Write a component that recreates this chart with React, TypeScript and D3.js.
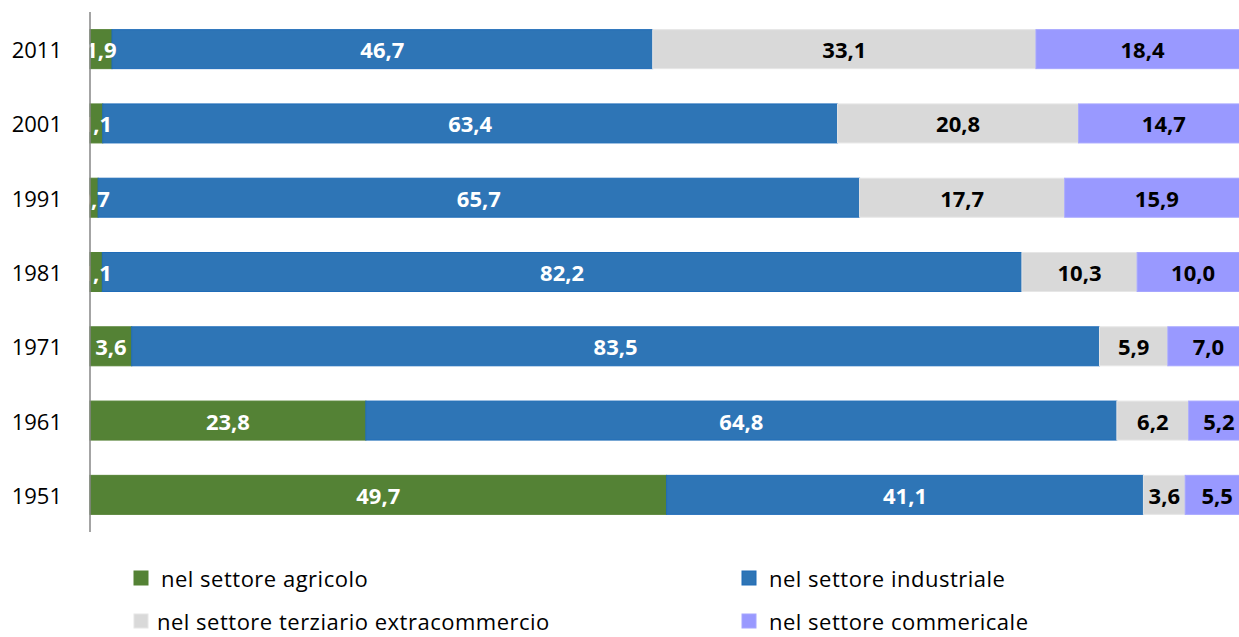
import { useEffect, useRef } from 'react'
import * as d3 from 'd3'

const years = ['2011', '2001', '1991', '1981', '1971', '1961', '1951']
const agricolo = [1.9, 1.1, 0.7, 1.1, 3.6, 23.8, 49.7]
const industriale = [46.7, 63.4, 65.7, 82.2, 83.5, 64.8, 41.1]
const terziario = [33.1, 20.8, 17.7, 10.3, 5.9, 6.2, 3.6]
const commerciale = [18.4, 14.7, 15.9, 10.0, 7.0, 5.2, 5.5]

const seriesNames = [
  'nel settore agricolo',
  'nel settore industriale',
  'nel settore terziario extracommercio',
  'nel settore commericale'
]

const W = 1239
const H = 637
const FONT = '"Open Sans", "Noto Sans", sans-serif'

export default function App() {
  const svgRef = useRef<SVGSVGElement>(null)

  useEffect(() => {
    if (!svgRef.current) return
    const svg = d3.select(svgRef.current)
    svg.selectAll('*').remove()

    const margin = { top: 12, left: 90 }
    const plotBottom = 532

    const series = [
      { name: seriesNames[0], values: agricolo, fill: '#548235', stroke: '#548235', text: '#ffffff' },
      { name: seriesNames[1], values: industriale, fill: '#2E75B6', stroke: '#1F6CB8', text: '#ffffff' },
      { name: seriesNames[2], values: terziario, fill: '#D9D9D9', stroke: '#E6E6E6', text: '#000000' },
      { name: seriesNames[3], values: commerciale, fill: '#9999FF', stroke: '#A6A6FF', text: '#000000' }
    ]

    // 100% stacked: each row is normalized; full width runs past the right edge
    const x = d3.scaleLinear().domain([0, 1]).range([margin.left, 1249])
    const y = d3.scaleBand<string>()
      .domain(years)
      .range([margin.top, plotBottom])
      .paddingInner(0.475)
      .paddingOuter(0.2375)

    const rows = years.map((yr, i) => {
      const total = d3.sum(series, s => s.values[i])
      let acc = 0
      return series.map(s => {
        const v = s.values[i]
        const seg = { year: yr, x0: acc / total, x1: (acc + v) / total, v, s }
        acc += v
        return seg
      })
    })

    rows.forEach(row => {
      const g = svg.append('g')
      row.forEach(seg => {
        g.append('rect')
          .attr('x', x(seg.x0))
          .attr('y', y(seg.year)!)
          .attr('width', x(seg.x1) - x(seg.x0))
          .attr('height', y.bandwidth())
          .attr('fill', seg.s.fill)
          .attr('stroke', seg.s.stroke)
          .attr('stroke-width', 1)
      })
      row.forEach(seg => {
        g.append('text')
          .attr('x', (x(seg.x0) + x(seg.x1)) / 2)
          .attr('y', y(seg.year)! + y.bandwidth() / 2)
          .attr('text-anchor', 'middle')
          .attr('dominant-baseline', 'central')
          .style('font-family', FONT)
          .style('font-weight', 'bold')
          .style('font-size', '22px')
          .style('fill', seg.s.text)
          .text(d3.format('.1f')(seg.v).replace('.', ','))
      })
    })

    // category axis
    svg.append('line')
      .attr('x1', margin.left)
      .attr('x2', margin.left)
      .attr('y1', margin.top)
      .attr('y2', plotBottom)
      .attr('stroke', '#868686')
      .attr('stroke-width', 1.5)

    years.forEach(yr => {
      svg.append('text')
        .attr('x', 62)
        .attr('y', y(yr)! + y.bandwidth() / 2)
        .attr('text-anchor', 'end')
        .attr('dominant-baseline', 'central')
        .style('font-family', FONT)
        .style('font-size', '22px')
        .style('fill', '#000')
        .text(yr)
    })

    // legend
    const legendPos = [
      { x: 134, y: 578 },
      { x: 742, y: 578 },
      { x: 134, y: 621 },
      { x: 742, y: 621 }
    ]
    series.forEach((s, i) => {
      const p = legendPos[i]
      svg.append('rect')
        .attr('x', p.x)
        .attr('y', p.y - 7)
        .attr('width', 14)
        .attr('height', 14)
        .attr('fill', s.fill)
        .attr('stroke', s.stroke)
      svg.append('text')
        .attr('x', p.x + (i === 2 ? 23 : 27))
        .attr('y', p.y)
        .attr('dominant-baseline', 'central')
        .style('font-family', FONT)
        .style('font-size', '22px')
        .style('letter-spacing', '0.5px')
        .style('fill', '#000')
        .text(s.name)
    })
  }, [])

  return (
    <div style={{ position: 'fixed', left: 0, top: 0, width: W, height: H, background: '#fff' }}>
      <svg ref={svgRef} width={W} height={H} style={{ display: 'block' }} />
    </div>
  )
}
